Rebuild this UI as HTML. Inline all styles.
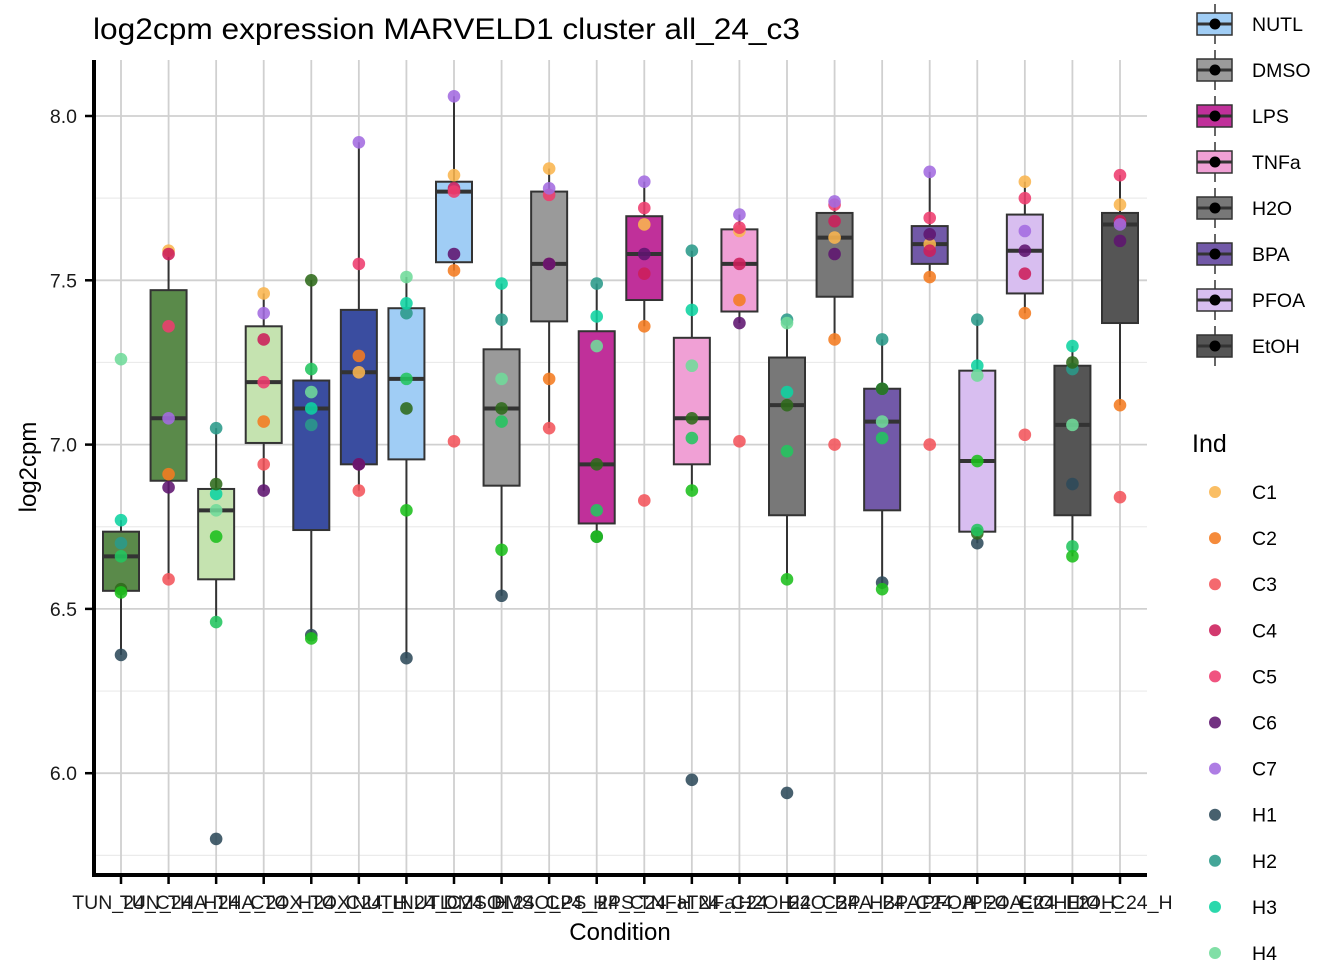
<!DOCTYPE html>
<html><head><meta charset="utf-8"><style>
body{margin:0;background:#fff}
svg text{font-family:"Liberation Sans",Arial,sans-serif}
</style></head><body>
<svg id="chart" width="1344" height="960" xmlns="http://www.w3.org/2000/svg">
<text x="93" y="39" font-size="30" fill="#000" textLength="707" lengthAdjust="spacingAndGlyphs">log2cpm expression MARVELD1 cluster all_24_c3</text>
<g id="grid"></g>
<g id="marks"></g>
<g id="axes"></g>
<g id="legend"></g>
</svg>
<script>
const categories=["TUN_24_C","TUN_24_H","THA_24_C","THA_24_H","TOX_24_C","TOX_24_H","NUTL_24_C","NUTL_24_H","DMSO_24_C","DMSO_24_H","LPS_24_C","LPS_24_H","TNFa_24_C","TNFa_24_H","H2O_24_C","H2O_24_H","BPA_24_C","BPA_24_H","PFOA_24_C","PFOA_24_H","EtOH_24_C","EtOH_24_H"];
const boxFills=["#5a8a4a","#5a8a4a","#c5e3b0","#c5e3b0","#3a4da0","#3a4da0","#a0cdf5","#a0cdf5","#9a9a9a","#9a9a9a","#c0309a","#c0309a","#f0a0d5","#f0a0d5","#787878","#787878","#7259a8","#7259a8","#d8bef0","#d8bef0","#555555","#555555"];
const hInds=["H1","H2","H3","H4","H5","H6","H7"];
const cInds=["C1","C2","C3","C4","C5","C6","C7"];
const indColors={C1:"#f9b54e",C2:"#f47b20",C3:"#f2545b",C4:"#cc1e5a",C5:"#ee3c6e",C6:"#5f1470",C7:"#a36be0",H1:"#2e4a5a",H2:"#2a9a8a",H3:"#0ed3a0",H4:"#6fdb9a",H5:"#2d6a1a",H6:"#22c55e",H7:"#1dbf1d"};
const values=[
[6.36,6.70,6.77,7.26,6.56,6.66,6.55],
[7.59,6.91,6.59,7.58,7.36,6.87,7.08],
[5.80,7.05,6.85,6.80,6.88,6.46,6.72],
[7.46,7.07,6.94,7.32,7.19,6.86,7.40],
[6.42,7.06,7.11,7.16,7.50,7.23,6.41],
[7.22,7.27,6.86,6.94,7.55,6.94,7.92],
[6.35,7.40,7.43,7.51,7.11,7.20,6.80],
[7.82,7.53,7.01,7.78,7.77,7.58,8.06],
[6.54,7.38,7.49,7.20,7.11,7.07,6.68],
[7.84,7.20,7.05,7.55,7.76,7.55,7.78],
[6.72,7.49,7.39,7.30,6.94,6.80,6.72],
[7.67,7.36,6.83,7.52,7.72,7.58,7.80],
[5.98,7.59,7.41,7.24,7.08,7.02,6.86],
[7.65,7.44,7.01,7.55,7.66,7.37,7.70],
[5.94,7.38,7.16,7.37,7.12,6.98,6.59],
[7.63,7.32,7.00,7.68,7.73,7.58,7.74],
[6.58,7.32,7.17,7.07,7.17,7.02,6.56],
[7.61,7.51,7.00,7.59,7.69,7.64,7.83],
[6.70,7.38,7.24,7.21,6.73,6.74,6.95],
[7.80,7.40,7.03,7.52,7.75,7.59,7.65],
[6.88,7.23,7.30,7.06,7.25,6.69,6.66],
[7.73,7.12,6.84,7.68,7.82,7.62,7.67]];
const yTicks=[6.0,6.5,7.0,7.5,8.0];
const yTickLabels=["6.0","6.5","7.0","7.5","8.0"];
const treatments=["NUTL","DMSO","LPS","TNFa","H2O","BPA","PFOA","EtOH"];
const treatmentFills=["#a0cdf5","#9a9a9a","#c0309a","#f0a0d5","#787878","#7259a8","#d8bef0","#555555"];
const legendInds=["C1","C2","C3","C4","C5","C6","C7","H1","H2","H3","H4"];

const NS="http://www.w3.org/2000/svg";
const PL=94,PR=1147,PT=60,PB=875;
const y=v=>116+(8-v)*328.6;
const x=i=>121+i*(1120-121)/21;
function mk(p,tag,a){const e=document.createElementNS(NS,tag);for(const k in a)e.setAttribute(k,a[k]);p.appendChild(e);return e;}
const grid=document.getElementById('grid'),marks=document.getElementById('marks'),axes=document.getElementById('axes'),leg=document.getElementById('legend');
for(let v=5.75;v<=8.2;v+=0.5){const l=mk(grid,'line',{x1:PL,x2:PR,y1:y(v),y2:y(v),stroke:'#ebebeb','stroke-width':1.2});}
yTicks.forEach((v,i)=>{const l=mk(grid,'line',{x1:PL,x2:PR,y1:y(v),y2:y(v),stroke:'#d0d0d0','stroke-width':1.8});
const t=mk(axes,'line',{x1:PL-9,x2:PL,y1:y(v),y2:y(v),stroke:'#000','stroke-width':2.5});
const tx=mk(axes,'text',{x:77,y:y(v)+7,'text-anchor':'end','font-size':19.5,fill:'#1a1a1a'});tx.textContent=yTickLabels[i];});
categories.forEach((c,i)=>{const l=mk(grid,'line',{x1:x(i),x2:x(i),y1:PT,y2:PB,stroke:'#d0d0d0','stroke-width':1.8});
const t=mk(axes,'line',{x1:x(i),x2:x(i),y1:PB,y2:PB+9,stroke:'#000','stroke-width':2.5});
const tx=mk(axes,'text',{x:x(i),y:PB+34,'text-anchor':'middle','font-size':19.5,fill:'#1a1a1a'});tx.textContent=c;});
function q(s,p){const h=(s.length-1)*p,lo=Math.floor(h);return s[lo]+(s[Math.min(lo+1,s.length-1)]-s[lo])*(h-lo);}
values.forEach((vals,i)=>{const s=[...vals].sort((a,b)=>a-b);const q1=q(s,.25),md=q(s,.5),q3=q(s,.75),iqr=q3-q1;
const inr=s.filter(v=>v>=q1-1.5*iqr&&v<=q3+1.5*iqr);const lo=inr[0],hi=inr[inr.length-1];const cx=x(i),w=36;
const g=mk(marks,'g',{});
const w1=mk(g,'line',{x1:cx,x2:cx,y1:y(hi),y2:y(q3),stroke:'#333','stroke-width':2});
const w2=mk(g,'line',{x1:cx,x2:cx,y1:y(q1),y2:y(lo),stroke:'#333','stroke-width':2});
const r=mk(g,'rect',{x:cx-w/2,y:y(q3),width:w,height:y(q1)-y(q3),fill:boxFills[i],stroke:'#333','stroke-width':2});
const m=mk(g,'line',{x1:cx-w/2,x2:cx+w/2,y1:y(md),y2:y(md),stroke:'#333','stroke-width':4});
const inds=(i%2===0)?hInds:cInds;
vals.forEach((v,j)=>{const p=mk(g,'circle',{cx:cx,cy:y(v),r:6.3,fill:indColors[inds[j]],'fill-opacity':0.88});});});
const ax1=mk(axes,'line',{x1:PL,x2:PL,y1:PT,y2:PB+2,stroke:'#000','stroke-width':4});
const ax2=mk(axes,'line',{x1:PL-2,x2:PR,y1:PB,y2:PB,stroke:'#000','stroke-width':4});
const xt=mk(axes,'text',{x:620,y:940,'text-anchor':'middle','font-size':24,fill:'#000'});xt.textContent='Condition';
const yt=mk(axes,'text',{x:0,y:0,'text-anchor':'middle','font-size':24,fill:'#000',transform:'translate(36,467) rotate(-90)'});yt.textContent='log2cpm';
treatments.forEach((t,i)=>{const cy=24+i*46;const g=mk(leg,'g',{});
mk(g,'line',{x1:1215,x2:1215,y1:cy-20,y2:cy+20,stroke:'#333','stroke-width':1.5});
mk(g,'rect',{x:1197,y:cy-11,width:35,height:22,fill:treatmentFills[i],stroke:'#333','stroke-width':1.5});
mk(g,'line',{x1:1197,x2:1232,y1:cy,y2:cy,stroke:'#333','stroke-width':3});
mk(g,'circle',{cx:1215,cy:cy,r:5.5,fill:'#000'});
const tx=mk(g,'text',{x:1252,y:cy+7,'font-size':19.5,fill:'#000'});tx.textContent=t;});
const lt=mk(leg,'text',{x:1192,y:452,'font-size':25,fill:'#000'});lt.textContent='Ind';
legendInds.forEach((d,i)=>{const cy=492+i*46.1;const g=mk(leg,'g',{});
mk(g,'circle',{cx:1215,cy:cy,r:6,fill:indColors[d],'fill-opacity':0.88});
const tx=mk(g,'text',{x:1252,y:cy+7,'font-size':19.5,fill:'#000'});tx.textContent=d;});
</script>
</body></html>
